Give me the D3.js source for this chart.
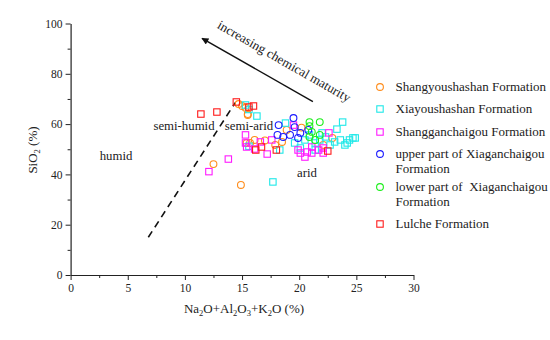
<!DOCTYPE html>
<html>
<head>
<meta charset="utf-8">
<script src="https://cdn.jsdelivr.net/npm/d3@7"></script>
<style>
body { margin: 0; background: #fff; }
svg { font-family: "Liberation Serif", "Times New Roman", serif; }
</style>
</head>
<body>
<div id="chart"></div>
<script>
// data: [x = Na2O+Al2O3+K2O, y = SiO2]
var shangyou = [[12.5,44.1],[14.9,35.8],[14.7,68],[15.0,67.2],[15.3,66.5],[15.5,64],[15.5,63.6],[16.1,53.7],
  [15.7,52.5],[15.4,52.5],[17.9,51.7],[18.5,52.9],[18.9,57.7],[20.2,58.6],[22.1,51.7],[22.9,54.5],[17.0,53.5]];
var xiayou = [[15.3,67.6],[15.6,65.8],[16.3,63.2],[18.8,60.4],[18.3,49.7],[23.8,60.8],[23.3,58],[24.4,53.7],
  [24.7,54.5],[24.2,52.5],[17.7,37],[20.5,53.7],[20.9,55.7],[21.4,52.5],[21.8,53.7],[22.3,54.9],[22.7,51.7],
  [23.1,52.9],[23.6,53.7],[24.0,51.7],[24.9,54.5],[21.4,49.7],[20.1,50.5],[15.6,51.2],[19.6,52.5],[22.0,56.5]];
var shanggan = [[12.1,41.1],[13.8,46.1],[15.3,55.7],[15.4,50.9],[16.1,50.1],[17.6,53.7],[19.9,49.7],[20.1,48.5],
  [20.7,48.9],[21.1,50.9],[21.7,49.7],[22.1,50.5],[22.6,56.5],[19.5,59.6],[16.6,52.9],[15.3,52.5],[17.2,48.1],
  [20.5,46.9],[21.1,48.5],[22.1,48.5]];
var upperXia = [[19.5,62.4],[18.2,59.6],[18.1,55.7],[18.6,54.9],[19.2,55.7],[19.6,58.8],[20.1,56.5],[19.9,54.5],
  [20.8,57.7]];
var lowerXia = [[20.9,60.8],[21.8,60.8],[20.9,59.2],[21.1,56.9],[21.8,55.7],[20.9,54.9],[21.4,53.7]];
var lulche = [[11.4,64.0],[12.8,64.8],[14.5,68.8],[15.6,66.8],[16.7,50.9],[16.2,49.7],[18.0,49.7],[22.5,49.3],
  [16.0,67.2]];

var xTicks = [0, 5, 10, 15, 20, 25, 30];
var yTicks = [0, 20, 40, 60, 80, 100];
var boundary = [[6.8, 15], [14.4, 68.5]];
var arrowLine = [[21.2, 68.9], [11.5, 94.1]];

var series = [
  {name: ["Shangyoushashan Formation"], data: shangyou, color: "#ff8c1a", shape: "circle"},
  {name: ["Xiayoushashan Formation"], data: xiayou, color: "#1ee8e8", shape: "square"},
  {name: ["Shangganchaigou Formation"], data: shanggan, color: "#ff1aff", shape: "square"},
  {name: ["upper part of Xiaganchaigou", "Formation"], data: upperXia, color: "#1a1aff", shape: "circle"},
  {name: ["lower part of  Xiaganchaigou", "Formation"], data: lowerXia, color: "#1aee1a", shape: "circle"},
  {name: ["Lulche Formation"], data: lulche, color: "#ff1a1a", shape: "square"}
];

var width = 550, height = 340;

var svg = d3.select("#chart").append("svg")
    .attr("width", width)
    .attr("height", height);

var x = d3.scaleLinear().domain([0, 30]).range([70.6, 413.5]);
var y = d3.scaleLinear().domain([0, 100]).range([275, 23.5]);

// minor ticks
svg.append("g")
    .attr("transform", "translate(0,275)")
    .call(d3.axisBottom(x).tickValues(d3.range(2.5, 30, 5)).tickSize(3).tickFormat(""))
    .call(function(g) { g.select(".domain").remove(); });
svg.append("g")
    .attr("transform", "translate(70.6,0)")
    .call(d3.axisLeft(y).tickValues(d3.range(10, 100, 20)).tickSize(3).tickFormat(""))
    .call(function(g) { g.select(".domain").remove(); });

var xAxis = svg.append("g")
    .attr("transform", "translate(0,275)")
    .call(d3.axisBottom(x).tickValues(xTicks).tickSize(5).tickSizeOuter(0).tickPadding(4));
var yAxis = svg.append("g")
    .attr("transform", "translate(70.6,0)")
    .call(d3.axisLeft(y).tickValues(yTicks).tickSize(5).tickSizeOuter(0).tickPadding(3));

[xAxis, yAxis].forEach(function(g) {
  g.selectAll("text").attr("font-size", "11.5px").attr("fill", "#222")
    .style("font-family", "Liberation Serif");
  g.select(".domain").attr("stroke", "#222").attr("stroke-width", 1.2);
});
svg.selectAll(".tick line").attr("stroke", "#222");

// axis labels
var xl = svg.append("text")
    .attr("x", 244).attr("y", 313)
    .attr("text-anchor", "middle")
    .attr("font-size", "13px")
    .attr("fill", "#222");
xl.append("tspan").text("Na");
xl.append("tspan").attr("font-size", "8.5px").attr("dy", 3).text("2");
xl.append("tspan").attr("dy", -3).text("O+Al");
xl.append("tspan").attr("font-size", "8.5px").attr("dy", 3).text("2");
xl.append("tspan").attr("dy", -3).text("O");
xl.append("tspan").attr("font-size", "8.5px").attr("dy", 3).text("3");
xl.append("tspan").attr("dy", -3).text("+K");
xl.append("tspan").attr("font-size", "8.5px").attr("dy", 3).text("2");
xl.append("tspan").attr("dy", -3).text("O (%)");

var yl = svg.append("text")
    .attr("transform", "translate(37,150) rotate(-90)")
    .attr("text-anchor", "middle")
    .attr("font-size", "13px")
    .attr("fill", "#222");
yl.append("tspan").text("SiO");
yl.append("tspan").attr("font-size", "8.5px").attr("dy", 3).text("2");
yl.append("tspan").attr("dy", -3).text(" (%)");

// boundary dashed line
svg.append("line")
    .attr("x1", x(boundary[0][0])).attr("y1", y(boundary[0][1]))
    .attr("x2", x(boundary[1][0])).attr("y2", y(boundary[1][1]))
    .attr("stroke", "#111").attr("stroke-width", 1.6)
    .attr("stroke-dasharray", "7,5");

// arrow
svg.append("defs").append("marker")
    .attr("id", "ah")
    .attr("viewBox", "0 0 10 10")
    .attr("refX", 9).attr("refY", 5)
    .attr("markerWidth", 9).attr("markerHeight", 7)
    .attr("markerUnits", "userSpaceOnUse")
    .attr("orient", "auto")
  .append("path").attr("d", "M0,0 L10,5 L0,10 Z").attr("fill", "#111");

svg.append("line")
    .attr("x1", x(arrowLine[0][0])).attr("y1", y(arrowLine[0][1]))
    .attr("x2", x(arrowLine[1][0])).attr("y2", y(arrowLine[1][1]))
    .attr("stroke", "#111").attr("stroke-width", 1.4)
    .attr("marker-end", "url(#ah)");

svg.append("text")
    .attr("transform", "translate(282,65) rotate(29.7)")
    .attr("text-anchor", "middle")
    .attr("font-size", "13px")
    .attr("fill", "#222")
    .text("increasing chemical maturity");

// region labels
var regions = [["humid", 116, 160], ["semi-humid", 184, 130], ["semi-arid", 249, 130], ["arid", 307, 177]];
svg.selectAll(".region").data(regions).enter().append("text")
    .attr("x", function(d) { return d[1]; })
    .attr("y", function(d) { return d[2]; })
    .attr("text-anchor", "middle")
    .attr("font-size", "12.8px")
    .attr("fill", "#222")
    .text(function(d) { return d[0]; });

// points
function drawMarker(g, shape, color, cx, cy) {
  if (shape == "circle") {
    g.append("circle").attr("cx", cx).attr("cy", cy).attr("r", 3.4)
      .attr("fill", "none").attr("stroke", color).attr("stroke-width", 1.1);
  } else {
    g.append("rect").attr("x", cx - 3.2).attr("y", cy - 3.2).attr("width", 6.4).attr("height", 6.4)
      .attr("fill", "none").attr("stroke", color).attr("stroke-width", 1.1);
  }
}

var pts = svg.append("g");
series.forEach(function(s) {
  s.data.forEach(function(d) {
    drawMarker(pts, s.shape, s.color, x(d[0]), y(d[1]));
  });
});

// legend
var legendRows = [87, 109, 132, 154, 187, 224];
var legend = svg.append("g");
series.forEach(function(s, i) {
  var ly = legendRows[i];
  drawMarker(legend, s.shape, s.color, 380, ly);
  s.name.forEach(function(line, j) {
    legend.append("text")
      .attr("x", 395.5).attr("y", ly + 4 + j * 15)
      .attr("font-size", "13px")
      .attr("fill", "#222")
      .style("white-space", "pre")
      .text(line);
  });
});
</script>
</body>
</html>
